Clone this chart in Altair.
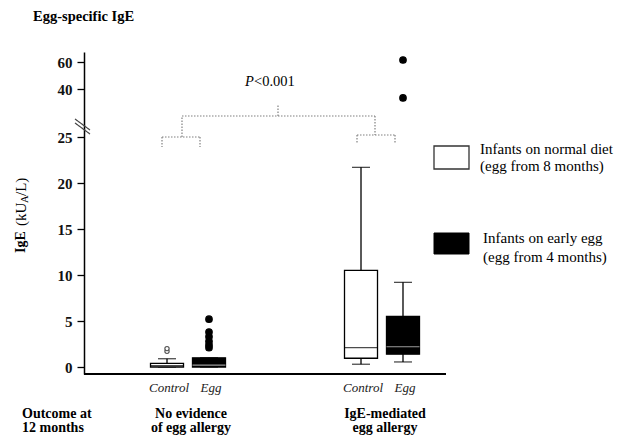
import altair as alt
import pandas as pd

# ---------------- data ----------------
groups = ["No evidence of egg allergy", "IgE-mediated egg allergy"]
group_text = ["No evidence\nof egg allergy", "IgE-mediated\negg allergy"]
diets = ["Control", "Egg"]

box_group = [groups[0], groups[0], groups[1], groups[1]]
box_diet = ["Control", "Egg", "Control", "Egg"]
lower_whisker = [0.0, 0.0, 0.3, 0.55]
q1 = [0.0, 0.0, 0.95, 1.4]
median = [0.15, 0.2, 2.1, 2.2]
q3 = [0.4, 1.0, 10.5, 5.5]
upper_whisker = [0.9, 1.0, 21.7, 9.2]

outlier_group = [groups[0]] * 8 + [groups[1]] * 2
outlier_diet = ["Control"] * 2 + ["Egg"] * 6 + ["Egg"] * 2
outlier_value = [1.7, 2.0, 2.1, 2.4, 2.8, 3.3, 3.8, 5.2, 37.2, 61.5]

y_ticks = [0, 5, 10, 15, 20, 25, 40, 60]

legend_lines = [["Infants on normal diet", "(egg from 8 months)"],
                ["Infants on early egg", "(egg from 4 months)"]]

# ---------------- tables ----------------
boxes = pd.DataFrame({"group": box_group, "diet": box_diet, "lw": lower_whisker,
                      "q1": q1, "med": median, "q3": q3, "uw": upper_whisker})
outliers = pd.DataFrame({"group": outlier_group, "diet": outlier_diet, "value": outlier_value})
glabels = pd.DataFrame({"group": groups, "label": group_text})
one = pd.DataFrame({"a": [1]})

W, H = 362, 322
SERIF = "Liberation Serif"

# axis with a break: piecewise-linear scale
y_scale = alt.Scale(domain=[-0.76, 25, 40, 60, 67.4], range=[H, 85, 37, 10, 0],
                    nice=False, zero=False)
x_scale = alt.Scale(domain=groups, range=[7, 395], paddingInner=0.5, paddingOuter=0.25)
off_scale = alt.Scale(domain=diets, paddingInner=0.214, paddingOuter=0.262)

X = alt.X("group:N", scale=x_scale, axis=None)
XO = alt.XOffset("diet:N", scale=off_scale)

yaxis = alt.Axis(values=y_ticks, title=None, grid=False, labelFont=SERIF, labelFontSize=15,
                 labelFontWeight="bold", labelColor="#111111", labelPadding=5, tickSize=7,
                 tickColor="black", tickWidth=1.3, domainColor="black", domainWidth=1.5,
                 labelFlush=False, labelOverlap=False)

whisk = alt.Chart(boxes).mark_rule(color="black", strokeWidth=1.3).encode(
    x=X, xOffset=XO,
    y=alt.Y("lw:Q", scale=y_scale, axis=yaxis), y2="uw:Q")

cap_lo = alt.Chart(boxes).mark_tick(color="black", size=18, thickness=1.3).encode(
    x=X, xOffset=XO, y=alt.Y("lw:Q", scale=y_scale))
cap_hi = alt.Chart(boxes).mark_tick(color="black", size=18, thickness=1.3).encode(
    x=X, xOffset=XO, y=alt.Y("uw:Q", scale=y_scale))

bars = alt.Chart(boxes).mark_bar(stroke="black", strokeWidth=1.3).encode(
    x=X, xOffset=XO, y=alt.Y("q1:Q", scale=y_scale), y2="q3:Q",
    fill=alt.Fill("diet:N", scale=alt.Scale(domain=diets, range=["white", "black"]), legend=None))

meds = alt.Chart(boxes).mark_tick(size=33, thickness=1.2).encode(
    x=X, xOffset=XO, y=alt.Y("med:Q", scale=y_scale),
    color=alt.Color("diet:N", scale=alt.Scale(domain=diets, range=["black", "#dddddd"]), legend=None))

pts = alt.Chart(outliers).mark_point(filled=False, strokeWidth=1.2, opacity=1).encode(
    x=X, xOffset=XO, y=alt.Y("value:Q", scale=y_scale),
    fill=alt.Fill("diet:N", scale=alt.Scale(domain=diets, range=["white", "black"]), legend=None),
    stroke=alt.Stroke("diet:N", scale=alt.Scale(domain=diets, range=["#555555", "black"]), legend=None),
    size=alt.Size("diet:N", scale=alt.Scale(domain=diets, range=[18, 42]), legend=None))

box_labels = alt.Chart(boxes).mark_text(font=SERIF, fontSize=13, fontStyle="italic",
                                        color="#222222", dx=2).encode(
    x=X, xOffset=XO, y=alt.value(336), text="diet:N")

group_labels = alt.Chart(glabels).mark_text(font=SERIF, fontSize=14, fontWeight="bold",
                                            lineBreak="\n", baseline="top", lineHeight=14,
                                            color="black", dx=3).encode(
    x=X, y=alt.value(355), text="label:N")


def seg(x1, y1, x2, y2, color="#808080", width=1.2, dash=(1.5, 1.5)):
    return alt.Chart(one).mark_rule(color=color, strokeWidth=width, strokeDash=list(dash)).encode(
        x=alt.value(x1), y=alt.value(y1), x2=alt.value(x2), y2=alt.value(y2))


def label(text, x, y, size=14, weight="normal", style="normal", align="left",
          baseline="middle", angle=0, line_height=14):
    return alt.Chart(one).mark_text(font=SERIF, fontSize=size, fontWeight=weight,
                                    fontStyle=style, align=align, baseline=baseline,
                                    angle=angle, color="black", lineBreak="\n",
                                    lineHeight=line_height).encode(
        x=alt.value(x), y=alt.value(y), text=alt.value(text))


annotations = [
    # brackets
    seg(78, 85, 116, 85), seg(78, 85, 78, 95), seg(116, 85, 116, 95),
    seg(98, 85, 98, 64), seg(98, 64, 291, 64), seg(194, 64, 194, 53),
    seg(291, 64, 291, 83), seg(273, 83, 311, 83), seg(273, 83, 273, 91), seg(311, 83, 311, 91),
    # x axis line
    seg(0, H, W, H, color="black", width=2, dash=(1, 0)),
    # axis break marks
    seg(-9, 67, 6, 78, color="#444444", width=1.2, dash=(1, 0)),
    seg(-9, 71, 6, 82, color="#444444", width=1.2, dash=(1, 0)),
    # texts
    label("Egg-specific IgE", -51, -35, size=14.5, weight="bold"),
    label("P", 161, 30, size=14.5, style="italic"),
    label("<0.001", 170, 30, size=14.5),
    label("IgE", -63, 201, size=14, weight="bold", angle=270),
    label("(kU", -63, 174, size=15, angle=270),
    label("A", -59, 151, size=10.5, angle=270),
    label("/L)", -63, 144, size=15, angle=270),
    label("Outcome at\n12 months", -62, 355, size=14, weight="bold", baseline="top"),
    # legend
    label(legend_lines[0][0], 396, 97, size=15),
    label(legend_lines[0][1], 396, 114, size=15),
    label(legend_lines[1][0], 399, 186, size=15),
    label(legend_lines[1][1], 399, 205, size=15),
]

legend_white = alt.Chart(one).mark_rect(fill="white", stroke="#333333", strokeWidth=1.3).encode(
    x=alt.value(350), x2=alt.value(385), y=alt.value(94), y2=alt.value(117))
legend_black = alt.Chart(one).mark_rect(fill="black", stroke="black", strokeWidth=1).encode(
    x=alt.value(350), x2=alt.value(385), y=alt.value(181), y2=alt.value(202))

chart = alt.layer(
    whisk, cap_lo, cap_hi, bars, meds, pts, box_labels, group_labels,
    legend_white, legend_black, *annotations
).properties(
    width=W, height=H,
    autosize=alt.AutoSizeParams(type="none"),
    padding={"left": 76, "top": 44, "right": 173, "bottom": 62},
).configure_view(stroke=None).configure_axis(labelFont=SERIF)

chart.save("out.html", embed_options={"renderer": "svg", "actions": False})
